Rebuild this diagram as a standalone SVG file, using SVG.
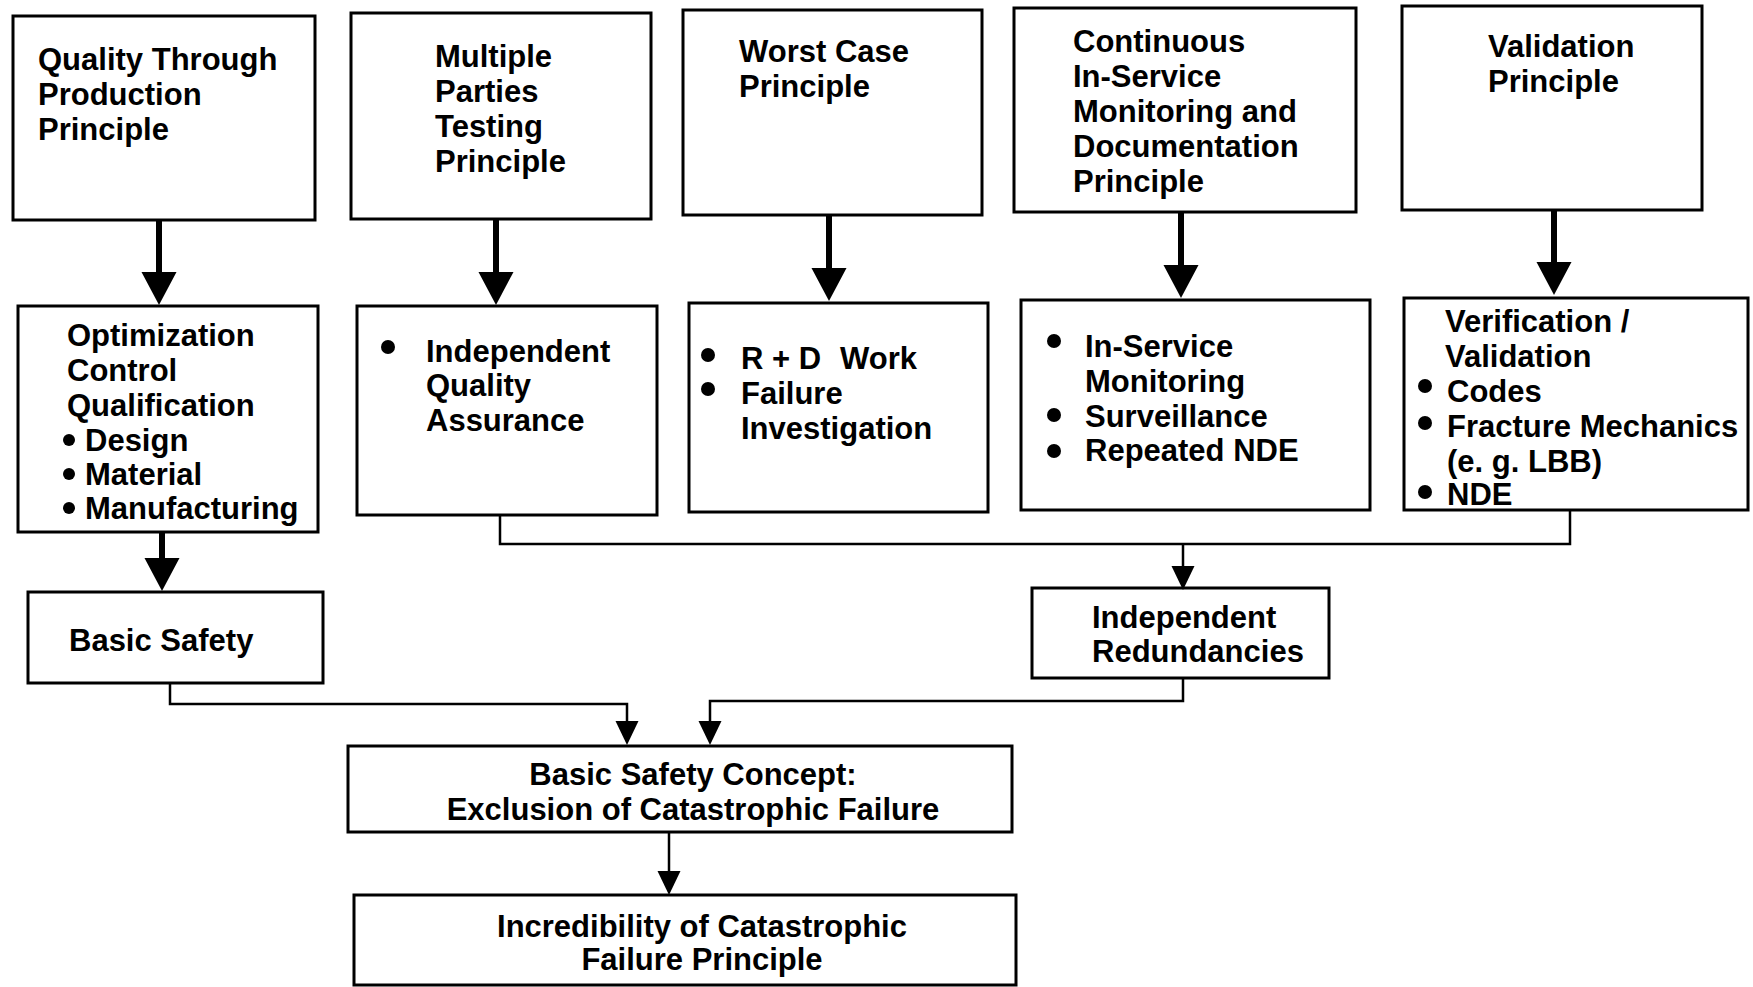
<svg xmlns="http://www.w3.org/2000/svg" width="1753" height="987" viewBox="0 0 1753 987">
  <defs>
    <style>
      .box { fill: #ffffff; stroke: #000000; stroke-width: 3; }
      .t { font-family: "Liberation Sans", Arial, Helvetica, sans-serif; font-weight: bold; font-size: 31px; fill: #000000; }
      .c { text-anchor: middle; }
      .dot { fill: #000000; }
      .thick { fill: none; stroke: #000000; stroke-width: 6; }
      .thin { fill: none; stroke: #000000; stroke-width: 2.5; }
    </style>
    <!-- large solid head used on the principle arrows -->
    <marker id="headBig" markerUnits="userSpaceOnUse" markerWidth="34" markerHeight="36" refX="13" refY="17.5" orient="auto">
      <path d="M0,0 L33,17.5 L0,35 Z" fill="#000000"/>
    </marker>
    <!-- small solid head used on the thin connectors -->
    <marker id="headSmall" markerUnits="userSpaceOnUse" markerWidth="25" markerHeight="24" refX="13" refY="11.5" orient="auto">
      <path d="M0,0 L24,11.5 L0,23 Z" fill="#000000"/>
    </marker>
  </defs>

  <rect x="0" y="0" width="1753" height="987" fill="#ffffff"/>

  <!-- top row: principles -->
  <g id="quality-through-production">
    <rect class="box" x="13" y="16" width="302" height="204"/>
    <text class="t" x="38" y="70">Quality Through</text>
    <text class="t" x="38" y="105">Production</text>
    <text class="t" x="38" y="140">Principle</text>
  </g>
  <g id="multiple-parties-testing">
    <rect class="box" x="351" y="13" width="300" height="206"/>
    <text class="t" x="435" y="67">Multiple</text>
    <text class="t" x="435" y="102">Parties</text>
    <text class="t" x="435" y="137">Testing</text>
    <text class="t" x="435" y="172">Principle</text>
  </g>
  <g id="worst-case">
    <rect class="box" x="683" y="10" width="299" height="205"/>
    <text class="t" x="739" y="62">Worst Case</text>
    <text class="t" x="739" y="97">Principle</text>
  </g>
  <g id="continuous-monitoring">
    <rect class="box" x="1014" y="8" width="342" height="204"/>
    <text class="t" x="1073" y="52">Continuous</text>
    <text class="t" x="1073" y="87">In-Service</text>
    <text class="t" x="1073" y="122">Monitoring and</text>
    <text class="t" x="1073" y="157">Documentation</text>
    <text class="t" x="1073" y="192">Principle</text>
  </g>
  <g id="validation">
    <rect class="box" x="1402" y="6" width="300" height="204"/>
    <text class="t" x="1488" y="57">Validation</text>
    <text class="t" x="1488" y="92">Principle</text>
  </g>

  <!-- second row: measures -->
  <g id="optimization">
    <rect class="box" x="18" y="306" width="300" height="226"/>
    <text class="t" x="67" y="346">Optimization</text>
    <text class="t" x="67" y="381">Control</text>
    <text class="t" x="67" y="416">Qualification</text>
    <circle class="dot" cx="69" cy="440" r="6"/>
    <text class="t" x="85" y="451">Design</text>
    <circle class="dot" cx="69" cy="474" r="6"/>
    <text class="t" x="85" y="485">Material</text>
    <circle class="dot" cx="69" cy="508" r="6"/>
    <text class="t" x="85" y="519">Manufacturing</text>
  </g>
  <g id="independent-qa">
    <rect class="box" x="357" y="306" width="300" height="209"/>
    <circle class="dot" cx="388" cy="347" r="7"/>
    <text class="t" x="426" y="362">Independent</text>
    <text class="t" x="426" y="396">Quality</text>
    <text class="t" x="426" y="431">Assurance</text>
  </g>
  <g id="rd-work">
    <rect class="box" x="689" y="303" width="299" height="209"/>
    <circle class="dot" cx="708" cy="355" r="7"/>
    <text class="t" x="741" y="369">R + D<tspan x="840">Work</tspan></text>
    <circle class="dot" cx="708" cy="389" r="7"/>
    <text class="t" x="741" y="404">Failure</text>
    <text class="t" x="741" y="439">Investigation</text>
  </g>
  <g id="in-service">
    <rect class="box" x="1021" y="300" width="349" height="210"/>
    <circle class="dot" cx="1054" cy="341" r="7"/>
    <text class="t" x="1085" y="357">In-Service</text>
    <text class="t" x="1085" y="392">Monitoring</text>
    <circle class="dot" cx="1054" cy="415" r="7"/>
    <text class="t" x="1085" y="427">Surveillance</text>
    <circle class="dot" cx="1054" cy="451" r="7"/>
    <text class="t" x="1085" y="461">Repeated NDE</text>
  </g>
  <g id="verification">
    <rect class="box" x="1404" y="298" width="344" height="212"/>
    <text class="t" x="1445" y="332">Verification /</text>
    <text class="t" x="1445" y="367">Validation</text>
    <circle class="dot" cx="1425" cy="386" r="7"/>
    <text class="t" x="1447" y="402">Codes</text>
    <circle class="dot" cx="1425" cy="423" r="7"/>
    <text class="t" x="1447" y="437">Fracture Mechanics</text>
    <text class="t" x="1447" y="472">(e. g. LBB)</text>
    <circle class="dot" cx="1425" cy="492" r="7"/>
    <text class="t" x="1447" y="505">NDE</text>
  </g>

  <!-- third row -->
  <g id="basic-safety">
    <rect class="box" x="28" y="592" width="295" height="91"/>
    <text class="t" x="69" y="651">Basic Safety</text>
  </g>
  <g id="independent-redundancies">
    <rect class="box" x="1032" y="588" width="297" height="90"/>
    <text class="t" x="1092" y="628">Independent</text>
    <text class="t" x="1092" y="662">Redundancies</text>
  </g>

  <!-- concept and resulting principle -->
  <g id="basic-safety-concept">
    <rect class="box" x="348" y="746" width="664" height="86"/>
    <text class="t c" x="693" y="785">Basic Safety Concept:</text>
    <text class="t c" x="693" y="820">Exclusion of Catastrophic Failure</text>
  </g>
  <g id="incredibility">
    <rect class="box" x="354" y="895" width="662" height="90"/>
    <text class="t c" x="702" y="937">Incredibility of Catastrophic</text>
    <text class="t c" x="702" y="970">Failure Principle</text>
  </g>

  <!-- connectors -->
  <g id="connectors">
    <line class="thick" x1="159" y1="220" x2="159" y2="285" marker-end="url(#headBig)"/>
    <line class="thick" x1="496" y1="219" x2="496" y2="285" marker-end="url(#headBig)"/>
    <line class="thick" x1="829" y1="215" x2="829" y2="281" marker-end="url(#headBig)"/>
    <line class="thick" x1="1181" y1="212" x2="1181" y2="278" marker-end="url(#headBig)"/>
    <line class="thick" x1="1554" y1="210" x2="1554" y2="275" marker-end="url(#headBig)"/>
    <line class="thick" x1="162" y1="532" x2="162" y2="571" marker-end="url(#headBig)"/>

    <polyline class="thin" points="500,515 500,544 1570,544 1570,510"/>
    <line class="thin" x1="1183" y1="544" x2="1183" y2="579" marker-end="url(#headSmall)"/>

    <polyline class="thin" points="170,683 170,704 627,704 627,734" marker-end="url(#headSmall)"/>
    <polyline class="thin" points="1183,678 1183,701 710,701 710,734" marker-end="url(#headSmall)"/>

    <line class="thin" x1="669" y1="832" x2="669" y2="884" marker-end="url(#headSmall)"/>
  </g>
</svg>
